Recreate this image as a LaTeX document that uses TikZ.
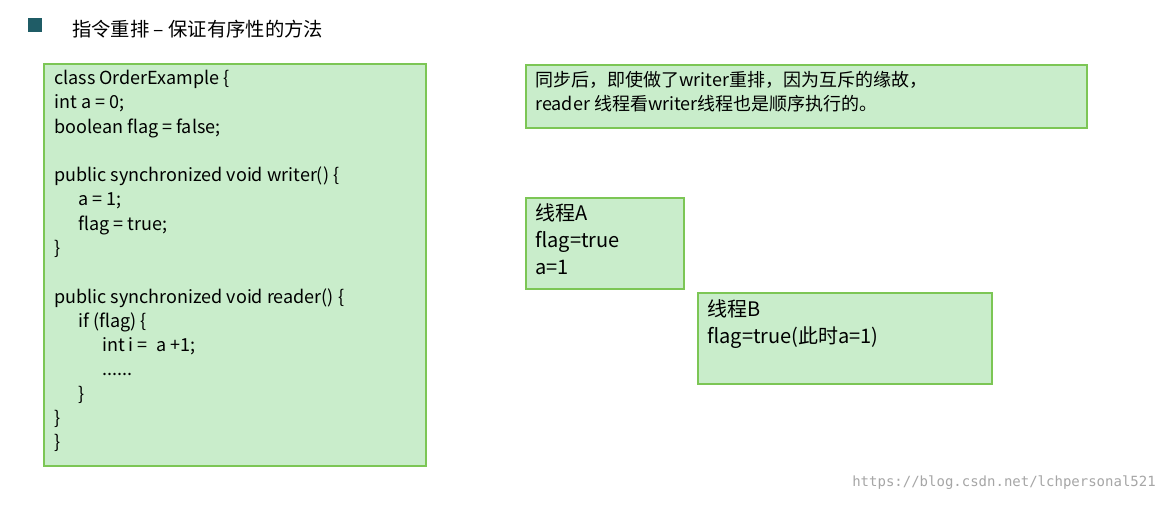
\documentclass[tikz,border=0pt]{standalone}
\usepackage{fontspec}
\setmainfont{Noto Sans CJK SC}
\newfontfamily\wmfont{DejaVu Sans Mono}
\definecolor{boxfill}{HTML}{C9EDCB}
\definecolor{boxline}{HTML}{7CC655}
\definecolor{bullet}{HTML}{1F5C66}
\tikzset{gbox/.style={draw=boxline,line width=1.5pt,fill=boxfill},
  txt/.style={anchor=north west,align=left,inner sep=0pt,font=\fontsize{13.5}{18.2}\selectfont}}
\begin{document}
\begin{tikzpicture}[x=0.75pt,y=-0.75pt]
\useasboundingbox[fill=white] (0,0) rectangle (1166,504);
\fill[bullet] (28,18) rectangle (42,32) coordinate (bl);
\node[anchor=west,inner sep=0pt,font=\fontsize{14.5}{17}\selectfont] (title) at (72,29) {指令重排 – 保证有序性的方法};
\draw[gbox] (44,64) rectangle (426,466) coordinate (codebox);
\node[txt] (code) at (54,70) {class OrderExample \{\\
int a = 0;\\
boolean flag = false;\\[18.2pt]
public synchronized void writer() \{\\
\hspace*{18pt}a = 1;\\
\hspace*{18pt}flag = true;\\
\}\\[18.2pt]
public synchronized void reader() \{\\
\hspace*{18pt}if (flag) \{\\
\hspace*{36pt}int i =\ \ a +1;\\
\hspace*{36pt}......\\
\hspace*{18pt}\}\\
\}\\
\}};
\draw[gbox] (526,65) rectangle (1087,128) coordinate (top);
\node[txt] (note) at (535,71) {同步后，即使做了writer重排，因为互斥的缘故，\\reader 线程看writer线程也是顺序执行的。};
\draw[gbox] (526,198) rectangle (684,289) coordinate (ab);
\node[txt,font=\fontsize{15}{20.5}\selectfont] (ta) at (535,203) {线程A\\flag=true\\a=1};
\draw[gbox] (698,293) rectangle (992,384) coordinate (bb);
\node[txt,font=\fontsize{15}{20.5}\selectfont] (tb) at (707,299) {线程B\\flag=true(此时a=1)};
\node[anchor=east,inner sep=0pt,text=gray!70,font=\wmfont\fontsize{10.5}{12}\selectfont] (wm) at (1156,483) {https://blog.csdn.net/lchpersonal521};
\end{tikzpicture}
\end{document}
